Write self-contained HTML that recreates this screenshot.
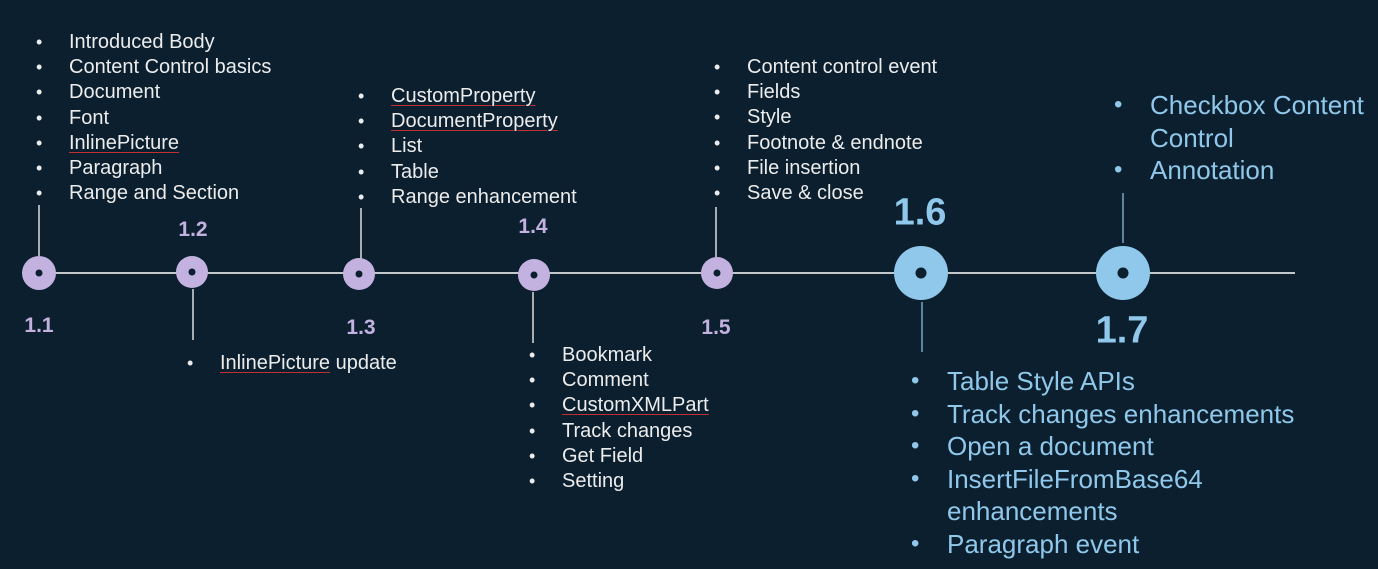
<!DOCTYPE html>
<html><head><meta charset="utf-8"><style>
html,body{margin:0;padding:0}
body{width:1378px;height:569px;background:#0b1f2e;position:relative;overflow:hidden;font-family:"Liberation Sans",sans-serif}
.l{position:absolute;color:#ececec;font-size:20px;line-height:25px;white-space:nowrap}
.l div{position:relative;height:25.2px}
.l div::before{content:"•";position:absolute;left:-33px;font-size:18px}
.b{position:absolute;color:#8fc8ea;font-size:26px;line-height:32.5px;white-space:nowrap}
.b div{position:relative;height:32.5px}
.b div::before{content:"•";position:absolute;left:-36px;font-size:24px}
.b div.c::before{content:""}
.u{text-decoration:underline;text-decoration-color:#c03030;text-decoration-thickness:1px;text-underline-offset:3px}
.lab{position:absolute;font-weight:bold;transform:translate(-50%,-50%);white-space:nowrap}
.p{color:#c3b2df;font-size:21px}
.q{color:#8fc8ea;font-size:38px}
</style></head><body>
<svg width="1378" height="569" style="position:absolute;left:0;top:0">
<line x1="22" y1="273" x2="1295" y2="273" stroke="#fff" stroke-width="1.5"/>
<g stroke="#ddd" stroke-width="1.5">
<line x1="39" y1="205" x2="39" y2="256"/>
<line x1="193" y1="289" x2="193" y2="340"/>
<line x1="361" y1="208" x2="361" y2="259"/>
<line x1="533" y1="292" x2="533" y2="343"/>
<line x1="716" y1="207" x2="716" y2="257"/>
</g>
<g stroke="#7aa6c4" stroke-width="1.5">
<line x1="922" y1="302" x2="922" y2="352"/>
<line x1="1123" y1="193" x2="1123" y2="243"/>
</g>
<g fill="#c3b2df">
<circle cx="39" cy="273" r="17"/><circle cx="192" cy="272" r="16"/><circle cx="359" cy="274" r="16"/><circle cx="534" cy="275" r="16"/><circle cx="717" cy="273" r="16"/>
</g>
<g fill="#8fc8ea"><circle cx="921" cy="273" r="27"/><circle cx="1123" cy="273" r="27"/></g>
<g fill="#0b1f2e">
<circle cx="39" cy="273" r="3.5"/><circle cx="192" cy="272" r="3.5"/><circle cx="359" cy="274" r="3.5"/><circle cx="534" cy="275" r="3.5"/><circle cx="717" cy="273" r="3.5"/>
<circle cx="921" cy="273" r="5.5"/><circle cx="1123" cy="273" r="5.5"/>
</g>
</svg>
<div class="lab p" style="left:39px;top:326px">1.1</div>
<div class="lab p" style="left:193px;top:230px">1.2</div>
<div class="lab p" style="left:361px;top:328px">1.3</div>
<div class="lab p" style="left:533px;top:227px">1.4</div>
<div class="lab p" style="left:716px;top:328px">1.5</div>
<div class="lab q" style="left:920px;top:213px">1.6</div>
<div class="lab q" style="left:1122px;top:331px">1.7</div>

<div class="l" style="left:69px;top:30px">
<div>Introduced Body</div><div>Content Control basics</div><div>Document</div><div>Font</div><div><span class="u">InlinePicture</span></div><div>Paragraph</div><div>Range and Section</div></div>
<div class="l" style="left:220px;top:351px"><div><span class="u">InlinePicture</span> update</div></div>
<div class="l" style="left:391px;top:84px">
<div><span class="u">CustomProperty</span></div><div><span class="u">DocumentProperty</span></div><div>List</div><div>Table</div><div>Range enhancement</div></div>
<div class="l" style="left:562px;top:343px">
<div>Bookmark</div><div>Comment</div><div><span class="u">CustomXMLPart</span></div><div>Track changes</div><div>Get Field</div><div>Setting</div></div>
<div class="l" style="left:747px;top:55px">
<div>Content control event</div><div>Fields</div><div>Style</div><div>Footnote &amp; endnote</div><div>File insertion</div><div>Save &amp; close</div></div>
<div class="b" style="left:1150px;top:89px">
<div>Checkbox Content</div><div class="c">Control</div><div>Annotation</div></div>
<div class="b" style="left:947px;top:365px">
<div>Table Style APIs</div><div>Track changes enhancements</div><div>Open a document</div><div>InsertFileFromBase64</div><div class="c">enhancements</div><div>Paragraph event</div></div>
</body></html>
